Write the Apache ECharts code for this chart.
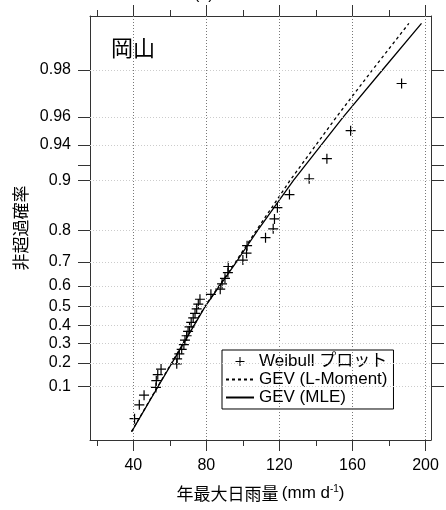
<!DOCTYPE html>
<html>
<head>
<meta charset="utf-8">
<script src="https://cdn.jsdelivr.net/npm/echarts@6/dist/echarts.min.js"></script>
<style>
  html, body { margin: 0; padding: 0; background: #fff; }
  #chart { width: 446px; height: 510px; }
</style>
</head>
<body>
<div id="chart"></div>
<script>
// annual maximum daily rainfall (mm/d), sorted, with Weibull plotting positions
const rainfall = [
  40.7, 43.3, 45.9, 52.4, 52.6, 53.4, 55.2, 63.8, 64.0, 65.2,
  66.5, 67.7, 68.3, 69.2, 70.0, 70.8, 71.7, 72.8, 73.8, 74.7,
  75.6, 76.5, 82.5, 87.6, 88.6, 90.2, 91.8, 92.0, 100.0, 102.0,
  102.3, 112.4, 116.6, 117.3, 118.9, 125.5, 136.3, 146.0, 159.0, 186.9
];
const weibullProb = [
  0.0244, 0.0488, 0.0732, 0.0976, 0.1220, 0.1463, 0.1707, 0.1951, 0.2195, 0.2439,
  0.2683, 0.2927, 0.3171, 0.3415, 0.3659, 0.3902, 0.4146, 0.4390, 0.4634, 0.4878,
  0.5122, 0.5366, 0.5610, 0.5854, 0.6098, 0.6341, 0.6585, 0.6829, 0.7073, 0.7317,
  0.7561, 0.7805, 0.8049, 0.8293, 0.8537, 0.8780, 0.9024, 0.9268, 0.9512, 0.9756
];

// fitted GEV curves
const curveProb = [0.011, 0.1, 0.3, 0.5, 0.7, 0.8, 0.9, 0.96, 0.98, 0.990];
const lmomRain  = [39.0, 53.3, 67.3, 79.2, 96.0, 107.3, 125.8, 151.2, 170.9, 190.9];
const mleRain   = [39.1, 53.5, 67.5, 79.4, 96.4, 108.0, 127.7, 154.9, 176.4, 197.8];

// axis ticks
const xMajor = [40, 80, 120, 160, 200];
const xMinor = [20, 60, 100, 140, 180];
const probLabels = [0.1, 0.2, 0.3, 0.4, 0.5, 0.6, 0.7, 0.8, 0.9, 0.94, 0.96, 0.98];
const probTicks = [0.1, 0.2, 0.3, 0.4, 0.5, 0.6, 0.7, 0.8, 0.9, 0.92, 0.94, 0.96, 0.98];

// Gumbel reduced variate, used as the y scale
const gumbel = (p) => -Math.log(-Math.log(p));

const latin = "'Liberation Sans', Arial, 'Noto Sans CJK JP', sans-serif";
const cjk = "'Noto Sans CJK JP', 'Liberation Sans', sans-serif";
const plusPath = "path://M0,4.4H10V5.6H0Z M4.4,0H5.6V10H4.4Z";
const frame = "#333";

const chart = echarts.init(document.getElementById("chart"));

const xBase = { type: "value", min: 16.3, max: 203, splitLine: { show: false } };
const yBase = { type: "value", min: -1.631, max: 4.71, splitLine: { show: false } };
const frameLine = { show: true, onZero: false, lineStyle: { color: frame, width: 1 } };
const noLine = { show: false, onZero: false };

const gridLines = [
  ...xMajor.map((v) => ({ xAxis: v, lineStyle: { color: "#777", type: [1, 2], width: 1 } })),
  ...probLabels.map((p) => ({ yAxis: gumbel(p), lineStyle: { color: "#ccc", type: [1, 2], width: 1 } })),
];

const option = {
  animation: false,
  backgroundColor: "#fff",
  title: {
    text: "岡山",
    left: 106,
    top: 32,
    textStyle: { fontFamily: cjk, fontSize: 22, fontWeight: "normal", color: "#000" },
  },
  graphic: [
    {
      type: "text",
      left: 194,
      top: -13,
      style: { text: "(a)", font: "16px " + latin, fill: "#000" },
    },
  ],
  grid: { left: 90, right: 15, top: 16, bottom: 70 },
  legend: {
    orient: "vertical",
    left: 222,
    top: 350,
    padding: [3, 6, 3, 3],
    itemGap: 1,
    itemWidth: 28,
    itemHeight: 9,
    backgroundColor: "#fff",
    borderColor: "#000",
    borderWidth: 1,
    borderRadius: 0,
    textStyle: { fontFamily: latin, fontSize: 17, color: "#000" },
    data: [
      { name: "Weibull プロット", icon: plusPath, itemStyle: { color: "#000" } },
      { name: "GEV (L-Moment)", itemStyle: { opacity: 0 } },
      { name: "GEV (MLE)", itemStyle: { opacity: 0 } },
    ],
  },
  xAxis: [
    {
      ...xBase,
      position: "bottom",
      name: "{a|年最大日雨量} {b|(mm d}{s|-1}{b|)}",
      nameLocation: "middle",
      nameGap: 44,
      nameTextStyle: {
        color: "#000",
        rich: {
          a: { fontFamily: cjk, fontSize: 17, color: "#000" },
          b: { fontFamily: latin, fontSize: 17, color: "#000" },
          s: { fontFamily: latin, fontSize: 10, color: "#000", padding: [0, 0, 9, 0] },
        },
      },
      axisLine: frameLine,
      axisTick: { show: true, customValues: xMajor, length: 11, lineStyle: { color: frame } },
      axisLabel: { customValues: xMajor, fontFamily: latin, fontSize: 16, color: "#000", margin: 18 },
    },
    {
      ...xBase,
      position: "bottom",
      axisLine: noLine,
      axisTick: { show: true, customValues: xMinor, length: 6, lineStyle: { color: frame } },
      axisLabel: { show: false },
    },
    {
      ...xBase,
      position: "top",
      axisLine: frameLine,
      axisTick: { show: true, customValues: xMajor, length: 11, lineStyle: { color: frame } },
      axisLabel: { show: false },
    },
    {
      ...xBase,
      position: "top",
      axisLine: noLine,
      axisTick: { show: true, customValues: xMinor, length: 6, lineStyle: { color: frame } },
      axisLabel: { show: false },
    },
  ],
  yAxis: [
    {
      ...yBase,
      position: "left",
      name: "非超過確率",
      nameLocation: "middle",
      nameGap: 57,
      nameTextStyle: { fontFamily: cjk, fontSize: 17, color: "#000" },
      axisLine: frameLine,
      axisTick: { show: true, customValues: probTicks.map(gumbel), length: 12, lineStyle: { color: frame } },
      axisLabel: {
        customValues: probLabels.map(gumbel),
        fontFamily: latin,
        fontSize: 16,
        color: "#000",
        margin: 19,
        formatter: (v) => String(parseFloat(Math.exp(-Math.exp(-v)).toFixed(2))),
      },
    },
    {
      ...yBase,
      position: "right",
      axisLine: frameLine,
      axisTick: { show: true, customValues: probTicks.map(gumbel), length: 13, lineStyle: { color: frame } },
      axisLabel: { show: false },
    },
  ],
  series: [
    {
      name: "grid",
      type: "line",
      data: [],
      z: 1,
      markLine: { silent: true, symbol: "none", label: { show: false }, data: gridLines },
    },
    {
      name: "Weibull プロット",
      type: "scatter",
      z: 4,
      symbol: plusPath,
      symbolSize: 10,
      itemStyle: { color: "#000", opacity: 1 },
      data: rainfall.map((r, i) => [r, gumbel(weibullProb[i])]),
    },
    {
      name: "GEV (L-Moment)",
      type: "line",
      z: 3,
      symbol: "none",
      lineStyle: { color: "#000", width: 1.3, type: [3, 3] },
      itemStyle: { color: "#000" },
      data: lmomRain.map((r, i) => [r, gumbel(curveProb[i])]),
    },
    {
      name: "GEV (MLE)",
      type: "line",
      z: 3,
      symbol: "none",
      lineStyle: { color: "#000", width: 1.3 },
      itemStyle: { color: "#000" },
      data: mleRain.map((r, i) => [r, gumbel(curveProb[i])]),
    },
  ],
};

chart.setOption(option);
</script>
</body>
</html>
